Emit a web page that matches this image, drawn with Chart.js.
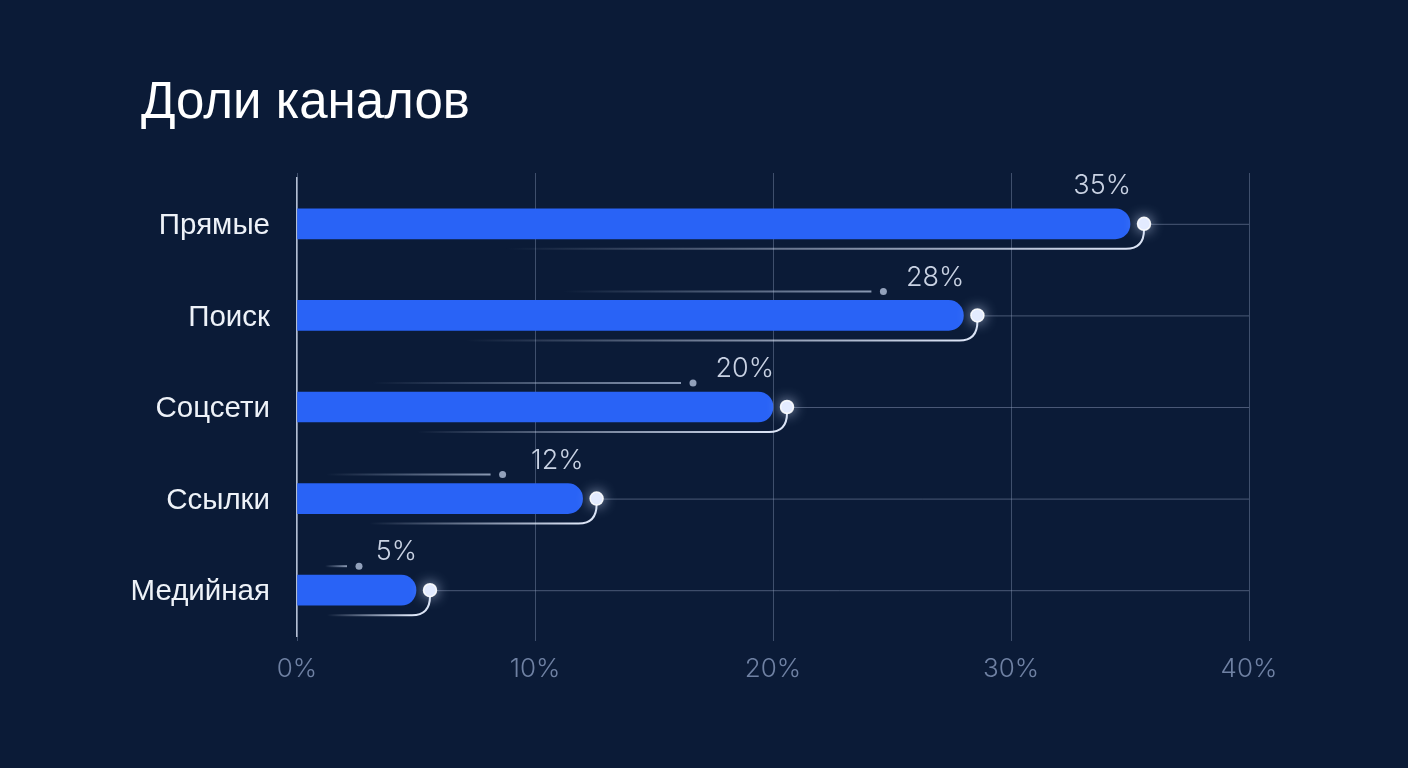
<!DOCTYPE html>
<html>
<head>
<meta charset="utf-8">
<script src="https://cdn.jsdelivr.net/npm/chart.js@4.4.1/dist/chart.umd.min.js"></script>
<style>
  html, body { margin: 0; padding: 0; background: #0b1b37; width: 1408px; height: 768px; overflow: hidden; }
  #wrap { position: relative; width: 1408px; height: 768px; }
  #title { position: absolute; left: 141px; top: 71px; margin: 0; font: 400 51px "Liberation Sans", Arial, sans-serif; color: #ffffff; line-height: 60px; }
  canvas { position: absolute; left: 0; top: 0; }
</style>
</head>
<body>
<div id="wrap">
  <h1 id="title">Доли каналов</h1>
  <canvas id="c" width="1408" height="768"></canvas>
</div>
<script>
const categories = ["Прямые", "Поиск", "Соцсети", "Ссылки", "Медийная"];
const shares = [35, 28, 20, 12, 5];
const xTicks = [0, 10, 20, 30, 40];

const decorPlugin = {
  id: 'decor',
  beforeDatasetsDraw(chart) {
    const ctx = chart.ctx;
    const xs = chart.scales.x, ys = chart.scales.y;
    const x0 = xs.getPixelForValue(0);
    const xMax = xs.getPixelForValue(xTicks[xTicks.length - 1]);
    const area = chart.chartArea;
    ctx.save();
    // extend vertical grid lines slightly above the plot area
    ctx.strokeStyle = 'rgba(150,165,195,0.38)';
    ctx.lineWidth = 1;
    xTicks.forEach(t => {
      const x = Math.round(xs.getPixelForValue(t)) + 0.5;
      ctx.beginPath();
      ctx.moveTo(x, area.top - 5);
      ctx.lineTo(x, area.top);
      ctx.stroke();
    });
    shares.forEach((v, i) => {
      const cy = ys.getPixelForValue(i);
      const end = xs.getPixelForValue(v);
      // horizontal guide from bar end to axis max
      ctx.strokeStyle = 'rgba(150,165,195,0.45)';
      ctx.lineWidth = 1;
      ctx.beginPath();
      ctx.moveTo(end + 14, cy + 0.5);
      ctx.lineTo(xMax, cy + 0.5);
      ctx.stroke();
      // accent line above bar
      if (i > 0) {
        const ax = Math.max(x0 + 50, end - 92);
        const as = Math.max(x0 + 28, ax - 310);
        const g = ctx.createLinearGradient(as, 0, ax, 0);
        g.addColorStop(0, 'rgba(170,185,210,0)');
        g.addColorStop(1, 'rgba(170,185,210,0.8)');
        ctx.strokeStyle = g;
        ctx.lineWidth = 2;
        ctx.beginPath();
        ctx.moveTo(as, cy - 24);
        ctx.lineTo(ax, cy - 24);
        ctx.stroke();
        ctx.fillStyle = 'rgba(170,185,210,0.85)';
        ctx.beginPath();
        ctx.arc(ax + 12, cy - 24, 3.5, 0, Math.PI * 2);
        ctx.fill();
      }
    });
    ctx.restore();
  },
  afterDatasetsDraw(chart) {
    const ctx = chart.ctx;
    const xs = chart.scales.x, ys = chart.scales.y;
    const x0 = xs.getPixelForValue(0);
    ctx.save();
    shares.forEach((v, i) => {
      const cy = ys.getPixelForValue(i);
      const end = xs.getPixelForValue(v);
      const dx = end + 14;
      // curved connector under the bar
      const ly = cy + 25;
      const ls = x0 + 0.25 * (end - x0);
      const g = ctx.createLinearGradient(ls, 0, dx - 20, 0);
      g.addColorStop(0, 'rgba(220,230,250,0)');
      g.addColorStop(0.6, 'rgba(220,230,250,0.6)');
      g.addColorStop(1, 'rgba(230,238,255,0.95)');
      ctx.strokeStyle = g;
      ctx.lineWidth = 2;
      ctx.beginPath();
      ctx.moveTo(ls, ly);
      ctx.lineTo(dx - 18, ly);
      ctx.quadraticCurveTo(dx, ly, dx, cy + 6);
      ctx.stroke();
      // glowing dot
      ctx.shadowColor = 'rgba(210,225,255,0.95)';
      ctx.shadowBlur = 14;
      ctx.fillStyle = '#e3ebff';
      ctx.beginPath();
      ctx.arc(dx, cy, 6.5, 0, Math.PI * 2);
      ctx.fill();
      ctx.shadowBlur = 0;
      ctx.strokeStyle = 'rgba(255,255,255,0.9)';
      ctx.lineWidth = 1.5;
      ctx.stroke();
      // value label
      ctx.fillStyle = '#c9d2e3';
      ctx.font = '300 27px Inter, "Liberation Sans", sans-serif';
      ctx.textAlign = 'right';
      ctx.textBaseline = 'middle';
      ctx.fillText(v + '%', end + 1, cy - 38);
    });
    ctx.restore();
  }
};

new Chart(document.getElementById('c'), {
  type: 'bar',
  data: {
    labels: categories,
    datasets: [{
      data: shares,
      backgroundColor: '#2963f6',
      barThickness: 30,
      borderRadius: { topRight: 15, bottomRight: 15, topLeft: 0, bottomLeft: 0 },
      borderSkipped: 'start'
    }]
  },
  options: {
    indexAxis: 'y',
    responsive: false,
    animation: false,
    devicePixelRatio: 1,
    layout: { padding: { left: 0, right: 159, top: 178, bottom: 0 } },
    plugins: { legend: { display: false }, tooltip: { enabled: false }, title: { display: false } },
    scales: {
      x: {
        min: 0, max: 40,
        afterFit(s) { s.height = 132; },
        afterBuildTicks(s) { s.ticks = xTicks.map(v => ({ value: v })); },
        grid: { color: 'rgba(150,165,195,0.38)', lineWidth: 1, drawTicks: true, tickLength: 5, tickColor: 'rgba(150,165,195,0.38)' },
        border: { display: false },
        ticks: {
          padding: 13,
          color: '#6f81a3',
          font: { family: 'Inter, "Liberation Sans", sans-serif', size: 26, weight: '300' },
          callback: v => v + '%'
        }
      },
      y: {
        afterFit(s) { s.width = 297; },
        grid: { display: false, drawTicks: false },
        border: { display: true, color: '#b3bed2', width: 1.5 },
        ticks: {
          padding: 27,
          labelOffset: 2,
          color: '#eef2f8',
          font: { family: '"Liberation Sans", Arial, sans-serif', size: 29.5 }
        }
      }
    }
  },
  plugins: [decorPlugin]
});
</script>
</body>
</html>
